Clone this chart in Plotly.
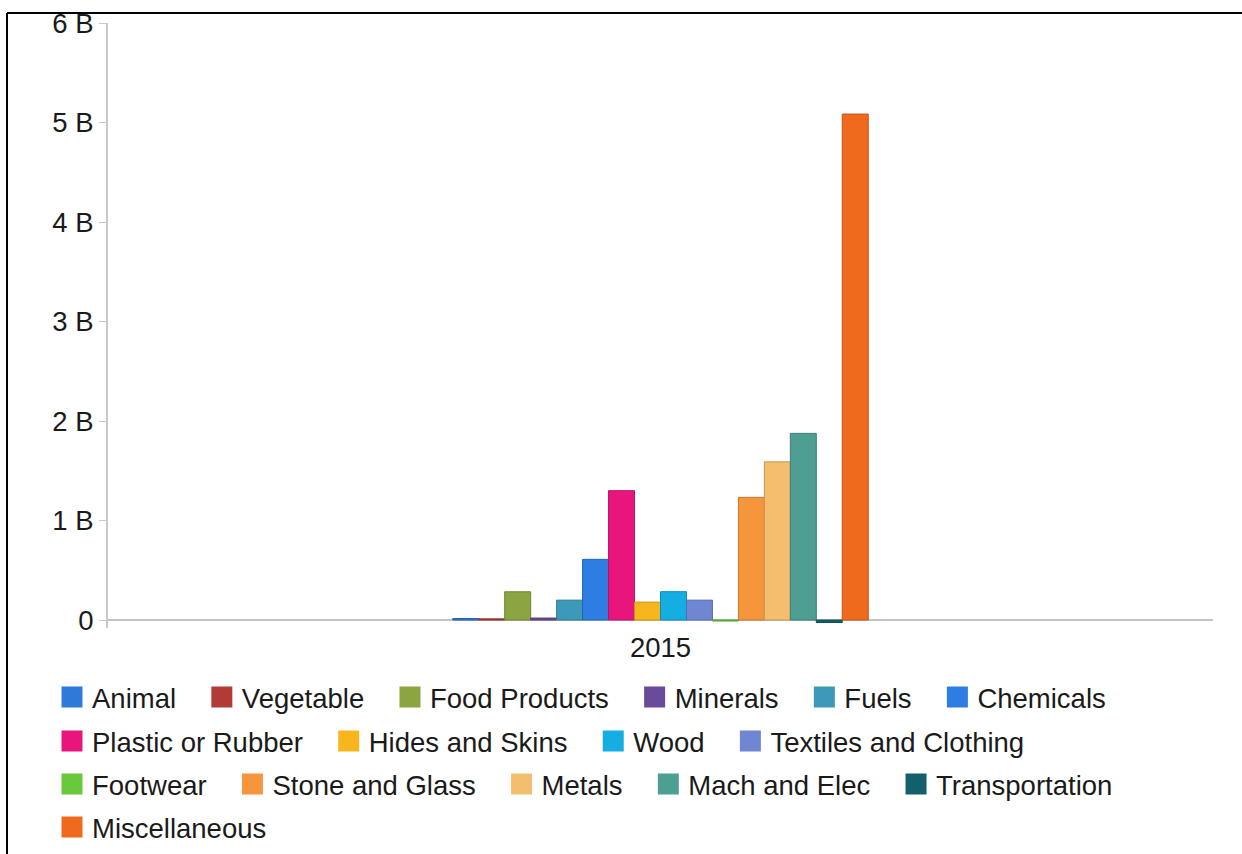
import plotly.graph_objects as go

year = ["2015"]
categories = ["Animal", "Vegetable", "Food Products", "Minerals", "Fuels", "Chemicals",
              "Plastic or Rubber", "Hides and Skins", "Wood", "Textiles and Clothing",
              "Footwear", "Stone and Glass", "Metals", "Mach and Elec", "Transportation",
              "Miscellaneous"]
values = [0.015e9, 0.012e9, 0.284e9, 0.02e9, 0.20e9, 0.61e9,
          1.30e9, 0.18e9, 0.285e9, 0.20e9,
          -0.01e9, 1.233e9, 1.59e9, 1.876e9, -0.025e9,
          5.085e9]
colors = ["#2f7ad6", "#b23b35", "#8aa541", "#6a4a9a", "#3c9ab8", "#2d7de2",
          "#e8167c", "#f7b61c", "#14aee2", "#6f86d2",
          "#69c93a", "#f5963c", "#f5bd6e", "#4f9e94", "#13606d",
          "#f06a1e"]
legend_rows = [0, 0, 0, 0, 0, 0, 1, 1, 1, 1, 2, 2, 2, 2, 2, 3]

tick_vals = [0, 1e9, 2e9, 3e9, 4e9, 5e9, 6e9]
tick_text = ["0", "1 B", "2 B", "3 B", "4 B", "5 B", "6 B"]

FONT = "Liberation Sans, Arial, Helvetica, sans-serif"
FS = 27.5
TXT = "#1a1a1a"
PAD = "\u00a0\u00a0\u2009"  # spacing after each legend entry


def darker(hexc, f=0.8):
    r, g, b = int(hexc[1:3], 16), int(hexc[3:5], 16), int(hexc[5:7], 16)
    return "rgb(%d,%d,%d)" % (r * f, g * f, b * f)


fig = go.Figure()
for name, v, c in zip(categories, values, colors):
    fig.add_trace(go.Bar(x=year, y=[v], name=name,
                         marker=dict(color=c, line=dict(color=darker(c), width=1)),
                         showlegend=False))

legend_keys = ["legend", "legend2", "legend3", "legend4"]
for name, c, r in zip(categories, colors, legend_rows):
    fig.add_trace(go.Scatter(x=[None], y=[None], mode="markers", name=name + PAD,
                             marker=dict(symbol="square", size=22, color=c,
                                         line=dict(color=c, width=5)),
                             legend=legend_keys[r], showlegend=True, hoverinfo="skip"))

# plot area: left 108, right 1213, top 23, bottom 628
W, H = 1242, 854
L, R, T, B = 108, 29, 23, 226
pw, ph = W - L - R, H - T - B


def px_x(p):
    return (p - L) / pw


def px_y(p):
    return (H - B - p) / ph


row_y = [697, 741, 784, 827]
leg_common = dict(orientation="h", xanchor="left", yanchor="middle",
                  xref="container", yref="container",
                  font=dict(family=FONT, size=FS, color=TXT),
                  bgcolor="rgba(0,0,0,0)", itemsizing="trace", tracegroupgap=0)
layout_legends = {}
for k, yy in zip(legend_keys, row_y):
    layout_legends[k] = dict(leg_common, x=52 / W, y=1 - yy / H)

fig.update_layout(
    width=W, height=H,
    margin=dict(l=L, r=R, t=T, b=B, autoexpand=False),
    paper_bgcolor="white", plot_bgcolor="white",
    barmode="group", bargap=0.624, bargroupgap=0,
    font=dict(family=FONT, size=FS, color=TXT),
    xaxis=dict(type="category", showgrid=False, showline=False, ticks="",
               ticklabelstandoff=0,
               tickfont=dict(family=FONT, size=FS, color=TXT)),
    yaxis=dict(range=[-0.08e9, 6e9], tickvals=tick_vals, ticktext=tick_text,
               showgrid=False, showline=True, linecolor="#c8c8c8", linewidth=2,
               ticks="outside", ticklen=7, tickcolor="#c8c8c8", tickwidth=1,
               zeroline=True, zerolinecolor="#c4c4c4", zerolinewidth=2,
               tickfont=dict(family=FONT, size=FS, color=TXT)),
    **layout_legends,
)

# frame lines (top and left) of the original screenshot
fig.add_shape(type="line", xref="paper", yref="paper", x0=px_x(7), x1=px_x(1242), y0=px_y(13), y1=px_y(13),
              line=dict(color="black", width=2))
fig.add_shape(type="line", xref="paper", yref="paper", x0=px_x(7), x1=px_x(7), y0=px_y(13), y1=px_y(854),
              line=dict(color="black", width=2))

fig.write_html("out.html")
